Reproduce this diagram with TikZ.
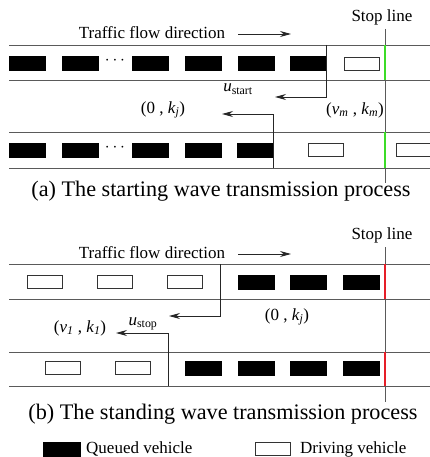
\documentclass[tikz,border=0pt]{standalone}
\usepackage{fontspec}
\setmainfont{Liberation Serif}
\usetikzlibrary{arrows.meta}
\definecolor{roadgray}{RGB}{90,90,90}
\definecolor{stopgreen}{RGB}{60,220,40}
\definecolor{stopred}{RGB}{230,30,40}
\newcommand{\isub}[2]{\textit{#1}\textsubscript{\textit{#2}}}
\begin{document}
\begin{tikzpicture}[x=1pt,y=-1pt,
  road/.style={draw=roadgray,line width=0.8pt},
  qcar/.style={draw=black,fill=black,minimum width=36pt,minimum height=14pt,inner sep=0pt,line width=0.6pt},
  dcar/.style={draw=black!80,fill=white,minimum width=35pt,minimum height=13pt,inner sep=0pt,line width=0.8pt},
  wave/.style={draw=black!85,line width=0.9pt,-{Stealth[length=11pt,width=6pt]}},
  lbl/.style={font=\fontsize{17}{19}\selectfont,inner sep=0pt},
  captxt/.style={font=\fontsize{22.2}{24}\selectfont,inner sep=0pt},
  stopmark/.style={line width=2.4pt},
  dotsn/.style={inner sep=0pt,font=\fontsize{17}{19}\selectfont}
]
\useasboundingbox (0,0) rectangle (430,457);

% ===== Panel (a) =====
\coordinate (a1l) at (9,45); \coordinate (a1r) at (430,45);
\coordinate (a2l) at (9,80); \coordinate (a2r) at (430,80);
\coordinate (a3l) at (9,132); \coordinate (a3r) at (430,132);
\coordinate (a4l) at (9,168); \coordinate (a4r) at (430,168);
\draw[road] (a1l) -- (a1r);
\draw[road] (a2l) -- (a2r);
\draw[road] (a3l) -- (a3r);
\draw[road] (a4l) -- (a4r);

\node[lbl] (stopa) at (382,17) {Stop line};
\coordinate (sla1) at (385,29); \coordinate (sla2) at (385,183);
\draw[road] (sla1) -- (sla2);
\coordinate (ga1) at (385,45); \coordinate (ga2) at (385,80);
\coordinate (ga3) at (385,132); \coordinate (ga4) at (385,168);
\draw[stopmark,stopgreen] (ga1) -- (ga2);
\draw[stopmark,stopgreen] (ga3) -- (ga4);

\node[lbl] (tfa) at (152,33) {Traffic flow direction};
\coordinate (tfas) at (238,34); \coordinate (tfae) at (291,34);
\draw[wave] (tfas) -- (tfae);

% lane 1 cars
\node[qcar] (a1c1) at (27,63) {};
\node[qcar] (a1c2) at (80,63) {};
\node[dotsn] (a1d) at (115,61) {$\cdots$};
\node[qcar] (a1c3) at (150,63) {};
\node[qcar] (a1c4) at (203,63) {};
\node[qcar] (a1c5) at (256,63) {};
\node[qcar] (a1c6) at (308.5,63) {};
\node[dcar] (a1c7) at (361.5,63.5) {};

% lane 2 cars
\node[qcar] (a2c1) at (27,150) {};
\node[qcar] (a2c2) at (80,150) {};
\node[dotsn] (a2d) at (115,148) {$\cdots$};
\node[qcar] (a2c3) at (150,150) {};
\node[qcar] (a2c4) at (203,150) {};
\node[qcar] (a2c5) at (255.5,150) {};
\node[dcar] (a2c6) at (325.5,150) {};
\begin{scope}
\clip (0,0) rectangle (430,457);
\node[dcar] (a2c7) at (413.5,150) {};
\end{scope}

% waves
\coordinate (wa1t) at (326,45); \coordinate (wa1c) at (326,97); \coordinate (wa1e) at (275,97);
\draw[wave] (wa1t) -- (wa1c) -- (wa1e);
\coordinate (wa2t) at (273,168); \coordinate (wa2c) at (273,114); \coordinate (wa2e) at (222,114);
\draw[wave] (wa2t) -- (wa2c) -- (wa2e);

\node[lbl] (ust) at (238,89) {\textit{u}\textsubscript{start}};
\node[lbl] (okj) at (163,110) {(0 , \isub{k}{j})};
\node[lbl] (vmkm) at (355,110) {(\isub{v}{m} , \isub{k}{m})};

\node[captxt] (capa) at (221,191) {(a) The starting wave transmission process};

% ===== Panel (b) =====
\coordinate (b1l) at (9,264); \coordinate (b1r) at (430,264);
\coordinate (b2l) at (9,299); \coordinate (b2r) at (430,299);
\coordinate (b3l) at (9,352); \coordinate (b3r) at (430,352);
\coordinate (b4l) at (9,386); \coordinate (b4r) at (430,386);
\draw[road] (b1l) -- (b1r);
\draw[road] (b2l) -- (b2r);
\draw[road] (b3l) -- (b3r);
\draw[road] (b4l) -- (b4r);

\node[lbl] (stopb) at (382,235) {Stop line};
\coordinate (slb1) at (385,247); \coordinate (slb2) at (385,402);
\draw[road] (slb1) -- (slb2);
\coordinate (rb1) at (385,264); \coordinate (rb2) at (385,299);
\coordinate (rb3) at (385,352); \coordinate (rb4) at (385,386);
\draw[stopmark,stopred] (rb1) -- (rb2);
\draw[stopmark,stopred] (rb3) -- (rb4);

\node[lbl] (tfb) at (152,253) {Traffic flow direction};
\coordinate (tfbs) at (238,254); \coordinate (tfbe) at (291,254);
\draw[wave] (tfbs) -- (tfbe);

% lane 1 cars
\node[dcar] (b1c1) at (44.5,282) {};
\node[dcar] (b1c2) at (114.5,282) {};
\node[dcar] (b1c3) at (185,282) {};
\node[qcar] (b1c4) at (256,282) {};
\node[qcar] (b1c5) at (308.5,282) {};
\node[qcar] (b1c6) at (361,282) {};

% lane 2 cars
\node[dcar] (b2c1) at (62.5,368) {};
\node[dcar] (b2c2) at (132.5,368) {};
\node[qcar] (b2c3) at (203,368) {};
\node[qcar] (b2c4) at (256,368) {};
\node[qcar] (b2c5) at (308.5,368) {};
\node[qcar] (b2c6) at (361,368) {};

% waves
\coordinate (wb1t) at (220,264); \coordinate (wb1c) at (220,316); \coordinate (wb1e) at (169,316);
\draw[wave] (wb1t) -- (wb1c) -- (wb1e);
\coordinate (wb2t) at (168,386); \coordinate (wb2c) at (168,333); \coordinate (wb2e) at (116,333);
\draw[wave] (wb2t) -- (wb2c) -- (wb2e);

\node[lbl] (usp) at (143,324) {\textit{u}\textsubscript{stop}};
\node[lbl] (v1k1) at (80,328) {(\isub{v}{1} , \isub{k}{1})};
\node[lbl] (okjb) at (287,317) {(0 , \isub{k}{j})};

\node[captxt] (capb) at (223,414) {(b) The standing wave transmission process};

% ===== Legend =====
\node[qcar,minimum width=37pt] (lq) at (61.5,449) {};
\node[lbl,anchor=west] (lqt) at (86,449) {Queued vehicle};
\node[dcar] (ld) at (272.5,449) {};
\node[lbl,anchor=west] (ldt) at (300,449) {Driving vehicle};
\end{tikzpicture}
\end{document}
